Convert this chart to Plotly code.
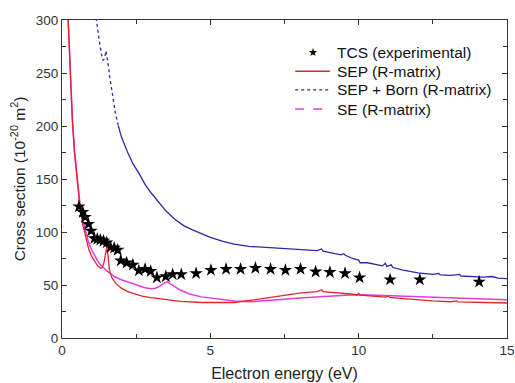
import plotly.graph_objects as go

# Measured total cross sections (stars)
tcs_energy = [0.57, 0.70, 0.78, 0.89, 0.98, 1.09, 1.19, 1.29, 1.40, 1.51, 1.64, 1.76, 1.88,
              1.98, 2.18, 2.39, 2.59, 2.80, 2.99, 3.20, 3.50, 3.73, 4.02, 4.52, 5.02, 5.53,
              6.02, 6.52, 7.03, 7.53, 8.04, 8.55, 9.03, 9.54, 10.03, 11.06, 12.06, 14.06]
tcs_value = [124, 118.6, 114, 107.5, 101, 94, 93.4, 92.5, 91.5, 90, 85.5, 85, 83,
             73, 71, 69, 63.5, 65, 63, 57, 58, 60, 60, 61, 64, 65,
             65, 66, 65, 64, 65, 62.5, 62, 61, 57, 55, 55, 53]

# SEP (R-matrix)
sep_energy = [0.20, 0.28, 0.35, 0.42, 0.50, 0.60, 0.70, 0.80, 0.90, 1.00, 1.10, 1.20, 1.30,
              1.36, 1.42, 1.47, 1.51, 1.55, 1.60, 1.68, 1.80, 2.0, 2.2, 2.4, 2.7, 3.0, 3.5,
              4.0, 4.7, 5.3, 5.8, 6.35, 6.9, 7.5, 8.0, 8.6, 8.75, 8.8, 9.2, 9.5, 9.73, 9.95,
              10.0, 10.05, 10.4, 10.9, 11.0, 11.05, 11.5, 12.0, 12.5, 13.1, 13.3, 13.35,
              13.8, 14.2, 14.6, 14.8, 15.0]
sep_value = [305, 250, 205, 175, 152, 125, 107, 94, 84, 77, 72, 68, 66,
             66.5, 72, 82, 86, 78, 64, 57, 52, 47, 44, 42, 39.5, 38, 36,
             34.5, 33.5, 33.3, 33.5, 35.5, 38, 40.5, 42.3, 43.8, 45.5, 43.8, 43, 42, 41.5, 40.6,
             42, 40.5, 39.8, 38.6, 39.5, 38.3, 37.2, 36, 35, 34.2, 35, 34,
             33.6, 33.2, 33.4, 32.8, 33]

# SEP + Born (R-matrix)
born_energy = [1.15, 1.20, 1.27, 1.33, 1.38, 1.42, 1.46, 1.49, 1.51, 1.54, 1.6, 1.7, 1.8,
               1.9, 2.0, 2.2, 2.4, 2.6, 2.8, 3.0, 3.2, 3.5, 3.8, 4.1, 4.4, 4.7, 5.0, 5.4,
               5.8, 6.3, 6.8, 7.5, 8.0, 8.6, 8.75, 8.8, 9.2, 9.4, 9.5, 9.55, 9.8, 10.0,
               10.05, 10.3, 10.8, 10.9, 10.95, 11.1, 11.15, 11.5, 12.0, 12.5, 12.7, 12.75,
               13.1, 13.4, 13.45, 13.8, 14.2, 14.5, 14.7, 15.0]
born_value = [302, 290, 278, 268, 262, 263, 270, 271, 265, 262, 248, 228, 212,
              200, 190, 176, 164, 155, 145, 137, 130, 120, 112, 106, 102, 98.5, 95, 91.5,
              88.5, 86.5, 85.5, 84.6, 83.8, 82.4, 84, 82, 79.5, 78.5, 79.5, 78, 75, 73.5,
              71, 71, 68, 70.5, 67.5, 69, 66.5, 64, 61.5, 60, 61, 59.5,
              59, 60, 58.5, 58, 57.5, 58, 56.5, 56]

# SE (R-matrix)
se_energy = [0.20, 0.28, 0.35, 0.42, 0.50, 0.60, 0.70, 0.80, 0.90, 1.00, 1.10, 1.20, 1.30,
             1.40, 1.50, 1.62, 1.80, 2.0, 2.2, 2.4, 2.6, 2.8, 3.0, 3.15, 3.3, 3.45, 3.55,
             3.65, 3.8, 4.0, 4.3, 4.7, 5.2, 5.8, 6.4, 7.0, 7.5, 8.0, 8.6, 9.2, 9.7, 10.1,
             10.5, 11.0, 12.0, 13.0, 14.0, 15.0]
se_value = [305, 250, 207, 177, 153, 128, 111, 99, 90, 83, 77.5, 73, 69,
            66, 63.5, 61, 57.5, 55, 53, 51, 49, 47.5, 46.5, 47, 49, 52, 53,
            51.5, 48.5, 45, 41.5, 38.8, 36.8, 35, 34.2, 35.2, 36.5, 37.8, 39, 40, 40.6, 40.8,
            40.4, 39.8, 38.5, 37.5, 36.7, 36]

x_ticks = [0, 5, 10, 15]
y_ticks = [0, 50, 100, 150, 200, 250, 300]

legend_labels = ["TCS (experimental)", "SEP (R-matrix)", "SEP + Born (R-matrix)", "SE (R-matrix)"]

RED = "#e3242b"
BLUE = "#2a2aa8"
MAGENTA = "#e03ce0"
INK = "#222222"
FONT = "Liberation Sans, Arial, sans-serif"

fig = go.Figure()

# SEP + Born: sparse steep part drawn dotted, the rest solid
split = 13  # index of 1.9 eV
fig.add_trace(go.Scatter(x=born_energy[:split + 1], y=born_value[:split + 1], mode="lines",
                         line=dict(color=BLUE, width=1.3, dash="dot"), showlegend=False))
fig.add_trace(go.Scatter(x=born_energy[split:], y=born_value[split:], mode="lines",
                         line=dict(color=BLUE, width=1.3), showlegend=False))
fig.add_trace(go.Scatter(x=se_energy, y=se_value, mode="lines",
                         line=dict(color=MAGENTA, width=1.5), showlegend=False))
fig.add_trace(go.Scatter(x=sep_energy, y=sep_value, mode="lines",
                         line=dict(color=RED, width=1.3), showlegend=False))
fig.add_trace(go.Scatter(x=tcs_energy, y=tcs_value, mode="markers",
                         marker=dict(symbol="star", size=10, color="black"),
                         showlegend=False))

# Legend block (paper coordinates, compact row spacing)
row_y = [0.899, 0.839, 0.780, 0.720]
sample_x0, sample_x1, text_x = 0.524, 0.602, 0.613
sample_styles = [None, ("solid", RED, 1.6), ("dot", BLUE, 1.3), ("dash", MAGENTA, 1.6)]
for label, yy, style in zip(legend_labels, row_y, sample_styles):
    if style is None:
        fig.add_annotation(x=(sample_x0 + sample_x1) / 2, y=yy, xref="paper", yref="paper",
                           text="★", showarrow=False, xanchor="center", yanchor="middle",
                           font=dict(size=11, color="black", family="DejaVu Sans"))
    else:
        dash, color, width = style
        fig.add_shape(type="line", xref="paper", yref="paper", x0=sample_x0, x1=sample_x1,
                      y0=yy, y1=yy, line=dict(color=color, width=width, dash=dash))
    fig.add_annotation(x=text_x, y=yy, xref="paper", yref="paper", text=label,
                       showarrow=False, xanchor="left", yanchor="middle",
                       font=dict(size=15.5, color="#111", family=FONT))

axis_common = dict(showline=True, linecolor="#333", linewidth=1, mirror="allticks",
                   ticks="inside", ticklen=5, tickcolor="#333", showgrid=False,
                   zeroline=False, automargin=False,
                   tickfont=dict(size=13.5, color="#333", family=FONT))

fig.update_xaxes(range=[0, 15], tickvals=x_ticks, ticktext=[str(v) for v in x_ticks],
                 minor=dict(ticks="inside", dtick=2.5, tick0=0, ticklen=4, tickcolor="#333"),
                 title=dict(text="Electron energy (eV)", font=dict(size=16, color=INK, family=FONT),
                            standoff=10),
                 **axis_common)
fig.update_yaxes(range=[0, 300], tickvals=y_ticks, ticktext=[str(v) for v in y_ticks],
                 minor=dict(ticks="inside", dtick=25, tick0=0, ticklen=4, tickcolor="#333"),
                 title=dict(text="Cross section (10<sup>-20</sup> m<sup>2</sup>)",
                            font=dict(size=15.5, color=INK, family=FONT), standoff=6),
                 **axis_common)

fig.update_layout(
    width=515, height=383,
    margin=dict(l=62, r=8, t=20, b=45, autoexpand=False),
    plot_bgcolor="white", paper_bgcolor="white",
    font=dict(family=FONT, color=INK),
    showlegend=False,
)

fig.write_html("out.html")
